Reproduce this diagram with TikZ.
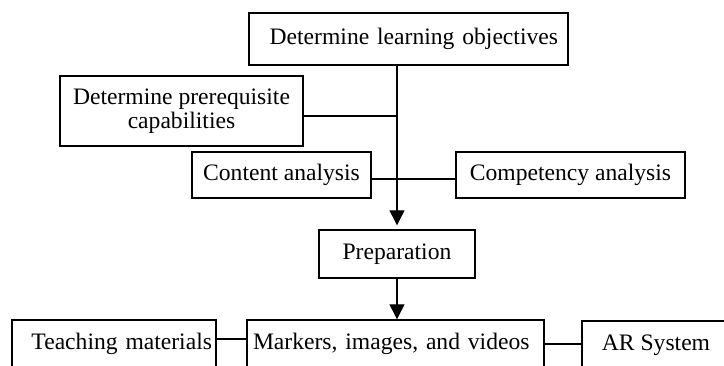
\documentclass[tikz,border=0pt]{standalone}
\usepackage{fontspec}
\setmainfont{Liberation Serif}
\usetikzlibrary{arrows.meta}
\tikzset{
  box/.style={draw, line width=0.7pt, inner sep=0pt, minimum height=24pt,
    font=\fontsize{11.8}{12}\selectfont},
  link/.style={line width=1pt},
  flow/.style={line width=0.6pt, -{Triangle[width=7.5pt,length=7.5pt]}}
}

\begin{document}
\begin{tikzpicture}[x=0.5pt, y=-0.5pt]
    \useasboundingbox (0, 0) rectangle (724, 365);
    \clip (0, 0) rectangle (724, 365);

    % analysis part
    \node [box, minimum width=159.5pt, minimum height=26pt, text width=149.5pt, align=right] (obj) at (408.5, 39) {Determine learning objectives};
    \node [box, minimum width=121.5pt, minimum height=35pt, align=center] (pre) at (181.5, 111) {Determine prerequisite\\capabilities};
    \node [box, minimum width=89.5pt, minimum height=23pt] (cont) at (281.5, 175) {Content analysis};
    \node [box, minimum width=114.5pt, minimum height=23pt] (comp) at (570.5, 175) {Competency analysis};
    \node [box, minimum width=78pt] (prep) at (397, 254) {Preparation};

    % development part
    \node [box, minimum width=102pt, text width=98pt, align=right] (teach) at (114, 344) {Teaching materials};
    \node [box, minimum width=148.5pt, text width=142.5pt, align=left] (mark) at (395.5, 344) {Markers, images, and videos};
    \node [box, minimum width=74pt] (ar) at (656, 345) {AR System};

    \draw [link] ([yshift=-2.5pt]pre.east) -- ([yshift=-2.5pt]pre.east -| prep.north);
    \draw [link] ([yshift=-2pt]cont.east) -- ([yshift=-2pt]comp.west);
    \draw [flow, shorten >=2pt] (obj.south -| prep.north) -- (prep.north);
    \draw [flow] (prep.south) -- (mark.north -| prep.south);
    \draw [link] ([yshift=2.5pt]teach.east) -- ([yshift=2.5pt]mark.west);
    \draw [link] (mark.east) -- (mark.east -| ar.west);
\end{tikzpicture}
\end{document}
